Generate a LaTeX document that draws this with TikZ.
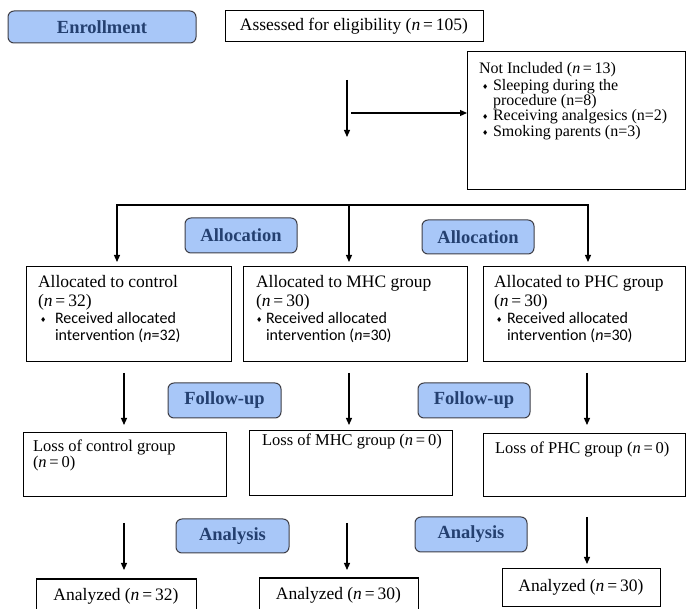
\documentclass[tikz,border=0pt]{standalone}
\usepackage{fontspec}
\setmainfont{Liberation Serif}
\newfontfamily\calfont{Carlito}
\newfontfamily\djvfont{DejaVu Sans}
\usetikzlibrary{arrows.meta}
\definecolor{phfill}{RGB}{168,199,248}
\definecolor{phedge}{RGB}{62,62,70}
\definecolor{phtext}{RGB}{36,64,112}
\newcommand\dmd{\raisebox{1.3pt}{\djvfont\fontsize{7}{7}\selectfont ♦}}
\begin{document}
\begin{tikzpicture}[x=1pt,y=-1pt,
  every node/.style={inner sep=0pt,outer sep=0pt},
  boxnode/.style={draw=black,line width=1pt,anchor=north west},
  phasebox/.style={draw=phedge,fill=phfill,rounded corners=6pt,line width=1pt,anchor=north west,text=phtext,font=\fontsize{18.5}{20}\selectfont\bfseries},
  tline/.style={anchor=base west,font=\fontsize{17.5}{19}\selectfont},
  lline/.style={anchor=base west,font=\fontsize{16.5}{18}\selectfont},
  sline/.style={anchor=base west,font=\fontsize{16}{16}\selectfont},
  cline/.style={anchor=base west,font=\calfont\fontsize{16}{17}\selectfont},
  conn/.style={draw,line width=1.2pt},
  arr/.style={draw,line width=1.2pt,-{Triangle[length=7pt,width=6pt]}}
]
\useasboundingbox (0,0) rectangle (686,609);

% phase labels
\node[phasebox,minimum width=188pt,minimum height=32pt] (enr) at (8,11) {Enrollment};
\node[phasebox,minimum width=112pt,minimum height=35pt] (alloc1) at (185,218) {Allocation};
\node[phasebox,minimum width=112pt,minimum height=34pt] (alloc2) at (422,220) {Allocation};
\node[phasebox,minimum width=113pt,minimum height=35pt] (fol1) at (168,383) {Follow-up};
\node[phasebox,minimum width=112pt,minimum height=35pt] (fol2) at (418,383) {Follow-up};
\node[phasebox,minimum width=113pt,minimum height=34pt] (ana1) at (176,519) {Analysis};
\node[phasebox,minimum width=112pt,minimum height=35pt] (ana2) at (415,517) {Analysis};

% enrollment
\node[boxnode,minimum width=258pt,minimum height=31pt,font=\fontsize{17.5}{19}\selectfont] (ass) at (225,11) {Assessed for eligibility (\textit{n}\,=\,105)};
\node[boxnode,minimum width=218.5pt,minimum height=138pt] (excl) at (467,52) {};
\node[sline] (ni0) at (479,73.5) {Not Included (\textit{n}\,=\,13)};
\node[sline] (ni1) at (479,90.5) {\makebox[14pt][l]{\hspace{3pt}\dmd}Sleeping during the};
\node[sline] (ni2) at (493,105.5) {procedure (n=8)};
\node[sline] (ni3) at (479,121) {\makebox[14pt][l]{\hspace{3pt}\dmd}Receiving analgesics (n=2)};
\node[sline] (ni4) at (479,136.5) {\makebox[14pt][l]{\hspace{3pt}\dmd}Smoking parents (n=3)};

\coordinate (a1s) at (347,80);
\coordinate (a1e) at (347,137);
\draw[arr] (a1s) -- (a1e);
\coordinate (a2s) at (351,113);
\draw[arr] (a2s) -- (a2s -| excl.west);

% allocation boxes
\node[boxnode,minimum width=205pt,minimum height=95pt] (ctl) at (26,267) {};
\node[boxnode,minimum width=224pt,minimum height=95pt] (mhc) at (243,267) {};
\node[boxnode,minimum width=202.5pt,minimum height=95pt] (phc) at (483,267) {};

\node[tline] (c1) at (38,288) {Allocated to control};
\node[tline] (c2) at (38,307) {(\textit{n}\,=\,32)};
\node[cline] (c3) at (38,324) {\makebox[17pt][l]{\hspace{2pt}\dmd}Received allocated};
\node[cline] (c4) at (55,341) {intervention (\textit{n}=32)};

\node[tline] (m1) at (256,288) {Allocated to MHC group};
\node[tline] (m2) at (256,307) {(\textit{n}\,=\,30)};
\node[cline] (m3) at (256,324) {\makebox[10pt][l]{\dmd}Received allocated};
\node[cline] (m4) at (266,341) {intervention (\textit{n}=30)};

\node[tline] (p1) at (494,288) {Allocated to PHC group};
\node[tline] (p2) at (494,307) {(\textit{n}\,=\,30)};
\node[cline] (p3) at (494,324) {\makebox[13pt][l]{\hspace{2pt}\dmd}Received allocated};
\node[cline] (p4) at (507,341) {intervention (\textit{n}=30)};

\coordinate (sL) at (117,205);
\coordinate (sM) at (349,205);
\coordinate (sR) at (588,205);
\draw[conn,line cap=rect] (sL) -- (sR);
\draw[arr,shorten >=5pt] (sL) -- (sL |- ctl.north);
\draw[arr,shorten >=5pt] (sM) -- (sM |- mhc.north);
\draw[arr,shorten >=5pt] (sR) -- (sR |- phc.north);

% follow-up
\node[boxnode,minimum width=203pt,minimum height=64pt] (lossC) at (23,433) {};
\node[boxnode,minimum width=203pt,minimum height=65pt] (lossM) at (249,431) {};
\node[boxnode,minimum width=202.5pt,minimum height=63pt] (lossP) at (483,434) {};
\node[lline] (lc1) at (33,452) {Loss of control group};
\node[lline] (lc2) at (33,468) {(\textit{n}\,=\,0)};
\node[lline] (lm1) at (262,446) {Loss of MHC group (\textit{n}\,=\,0)};
\node[lline] (lp1) at (495,454) {Loss of PHC group (\textit{n}\,=\,0)};

\coordinate (f1) at (124,373);
\coordinate (f2) at (349,373);
\coordinate (f3) at (587,373);
\draw[arr,shorten >=8pt] (f1) -- (f1 |- lossC.north);
\draw[arr,shorten >=6pt] (f2) -- (f2 |- lossM.north);
\draw[arr,shorten >=9pt] (f3) -- (f3 |- lossP.north);

% analysis
\node[boxnode,minimum width=160pt,minimum height=34pt,font=\fontsize{17.5}{19}\selectfont] (anC) at (36,579) {Analyzed (\textit{n}\,=\,32)};
\node[boxnode,minimum width=159pt,minimum height=34pt,font=\fontsize{17.5}{19}\selectfont] (anM) at (259,578) {Analyzed (\textit{n}\,=\,30)};
\node[boxnode,minimum width=158pt,minimum height=37pt,font=\fontsize{17.5}{19}\selectfont] (anP) at (502,569) {Analyzed (\textit{n}\,=\,30)};

\coordinate (g1) at (124,523);
\coordinate (g2) at (347,523);
\coordinate (g3) at (587,517);
\draw[arr,shorten >=9pt] (g1) -- (g1 |- anC.north);
\draw[arr,shorten >=8pt] (g2) -- (g2 |- anM.north);
\draw[arr,shorten >=5pt] (g3) -- (g3 |- anP.north);
\end{tikzpicture}
\end{document}
